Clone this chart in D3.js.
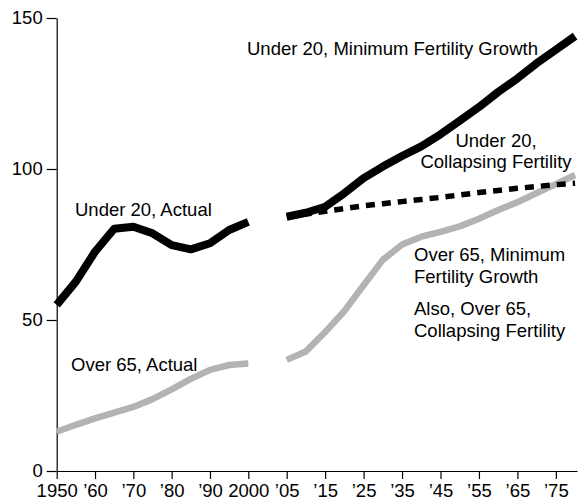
<!DOCTYPE html>
<html>
<head>
<meta charset="utf-8">
<script src="https://cdn.jsdelivr.net/npm/d3@7"></script>
<style>
  html, body { margin: 0; padding: 0; background: #fff; }
  svg { display: block; font-family: "Liberation Sans", Arial, Helvetica, sans-serif; }
</style>
</head>
<body>
<svg id="chart" width="582" height="504"></svg>
<script>
// ---- Data ----
const actualYears = [1950, 1955, 1960, 1965, 1970, 1975, 1980, 1985, 1990, 1995, 2000];
const under20Actual = [55, 62.7, 72.6, 80.2, 80.9, 78.7, 74.8, 73.4, 75.4, 79.8, 82.5];
const over65Actual  = [13, 15.3, 17.4, 19.3, 21.2, 23.8, 27, 30.5, 33.5, 35.1, 35.6];

const projYears = [2005, 2010, 2015, 2020, 2025, 2030, 2035, 2040, 2045, 2050, 2055, 2060, 2065, 2070, 2075, 2080];
const under20MinGrowth  = [84.2, 85.5, 87.5, 92, 97, 100.8, 104.3, 107.5, 111.5, 116, 120.5, 125.5, 130, 135, 139.5, 144];
const under20Collapsing = [84.2, 85.1, 86, 86.9, 87.8, 88.5, 89.2, 89.9, 90.6, 91.4, 92.2, 92.9, 93.6, 94.2, 94.8, 95.3];
const over65Projected   = [36.8, 39.6, 46, 53, 61.5, 69.9, 75, 77.6, 79.2, 81, 83.5, 86.4, 89, 92, 95, 98];

const xTickValues = [1950, 1960, 1970, 1980, 1990, 2000, 2005, 2015, 2025, 2035, 2045, 2055, 2065, 2075];
const yTickValues = [0, 50, 100, 150];

const labels = [
  { lines: ["Under 20, Actual"], x: 75, y: 216, anchor: "start" },
  { lines: ["Under 20, Minimum Fertility Growth"], x: 247, y: 55, anchor: "start" },
  { lines: ["Under 20,", "Collapsing Fertility"], x: 496, y: 146.5, anchor: "middle" },
  { lines: ["Over 65, Minimum", "Fertility Growth"], x: 414, y: 261, anchor: "start" },
  { lines: ["Also, Over 65,", "Collapsing Fertility"], x: 414, y: 315, anchor: "start" },
  { lines: ["Over 65, Actual"], x: 71, y: 370.5, anchor: "start" }
];

// ---- Scales (broken axis: 2000 -> 2005 takes one tick interval) ----
const svg = d3.select("#chart");
const x = d3.scaleLinear()
  .domain([1950, 2000, 2005, 2080.5])
  .range([56.7, 248.3, 286.7, 577]);
const y = d3.scaleLinear().domain([0, 150]).range([471, 18]);

const FONT = "18.5px";

// ---- Axes ----
const xAxis = d3.axisBottom(x)
  .tickValues(xTickValues)
  .tickSize(8)
  .tickSizeOuter(0)
  .tickPadding(5)
  .tickFormat(d => (d === 1950 || d === 2000) ? String(d) : "\u2019" + String(d).slice(2));

const gx = svg.append("g").attr("transform", `translate(0,${y(0)})`).call(xAxis);
gx.selectAll("text").attr("font-size", FONT).attr("fill", "#000")
  .attr("font-family", "Liberation Sans, Arial, sans-serif");
gx.selectAll("line, path").attr("stroke", "#000").attr("stroke-width", 1.2);

const yAxis = d3.axisLeft(y)
  .tickValues(yTickValues)
  .tickSize(10)
  .tickSizeOuter(0)
  .tickPadding(4);
const gy = svg.append("g").attr("transform", `translate(${x(1950)},0)`).call(yAxis);
gy.selectAll("text").attr("font-size", FONT).attr("fill", "#000")
  .attr("font-family", "Liberation Sans, Arial, sans-serif");
gy.selectAll("line, path").attr("stroke", "#000").attr("stroke-width", 1.2);

// ---- Lines ----
const line = d3.line()
  .x(d => x(d[0]))
  .y(d => y(d[1]))
  .curve(d3.curveLinear);

function series(years, vals) { return years.map((yr, i) => [yr, vals[i]]); }

const GRAY = "#b3b3b3";

svg.append("path").datum(series(actualYears, over65Actual))
  .attr("d", line).attr("fill", "none").attr("stroke", GRAY).attr("stroke-width", 6.5)
  .attr("stroke-linejoin", "round");
svg.append("path").datum(series(projYears, over65Projected))
  .attr("d", line).attr("fill", "none").attr("stroke", GRAY).attr("stroke-width", 6.5)
  .attr("stroke-linejoin", "round");

svg.append("path").datum(series(projYears, under20Collapsing))
  .attr("d", line).attr("fill", "none").attr("stroke", "#000").attr("stroke-width", 5.5)
  .attr("stroke-dasharray", "9,7");

svg.append("path").datum(series(actualYears, under20Actual))
  .attr("d", line).attr("fill", "none").attr("stroke", "#000").attr("stroke-width", 8)
  .attr("stroke-linejoin", "round");
svg.append("path").datum(series(projYears, under20MinGrowth))
  .attr("d", line).attr("fill", "none").attr("stroke", "#000").attr("stroke-width", 8)
  .attr("stroke-linejoin", "round");

// ---- Labels ----
labels.forEach(l => {
  const t = svg.append("text")
    .attr("x", l.x).attr("y", l.y)
    .attr("text-anchor", l.anchor)
    .attr("font-size", FONT)
    .attr("fill", "#000");
  l.lines.forEach((s, i) => {
    t.append("tspan").attr("x", l.x).attr("dy", i === 0 ? 0 : 21.7).text(s);
  });
});
</script>
</body>
</html>
